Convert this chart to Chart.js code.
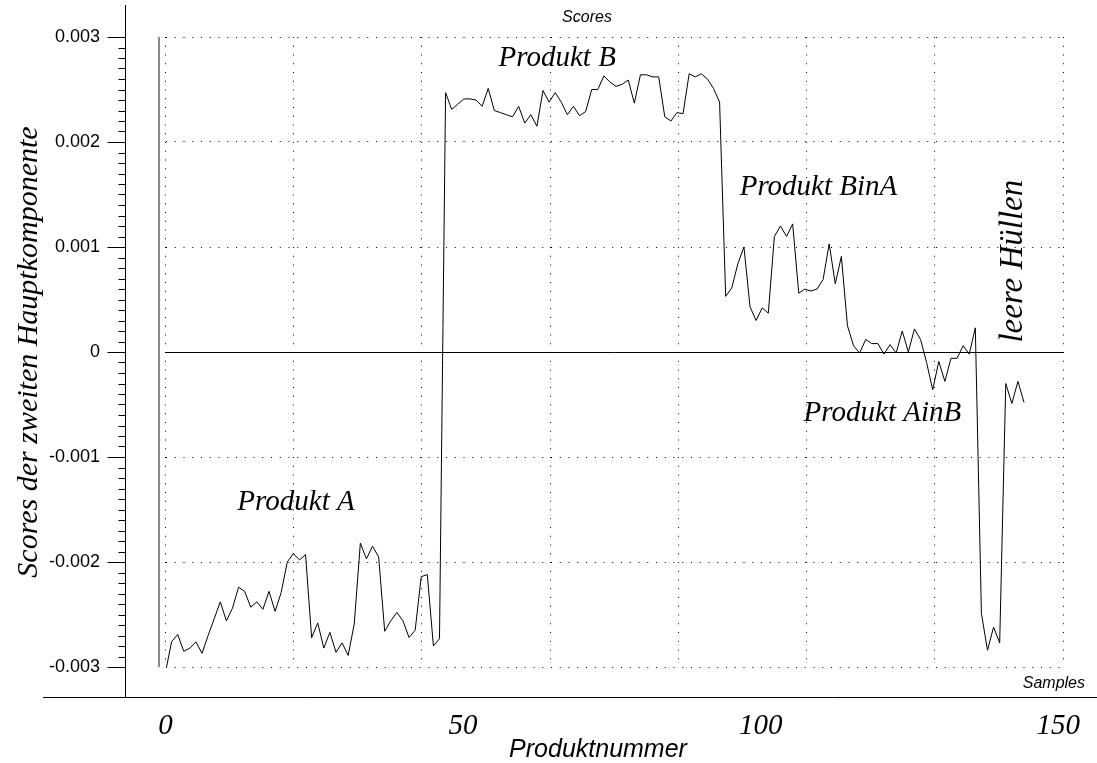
<!DOCTYPE html>
<html lang="de">
<head>
<meta charset="utf-8">
<title>Scores der zweiten Hauptkomponente</title>
<script src="https://cdn.jsdelivr.net/npm/chart.js@4"></script>
<style>
  html, body { margin: 0; padding: 0; background: #fff; }
  canvas { display: block; }
</style>
</head>
<body>
<canvas id="scoresChart" width="1097" height="763"></canvas>
<script>
// scores of the second principal component, in units of 0.001, one value per sample
const produktA = [
  -3.05, -2.76, -2.69, -2.85, -2.82, -2.76, -2.87, -2.70, -2.54, -2.38,
  -2.56, -2.44, -2.24, -2.28, -2.43, -2.38, -2.45, -2.28, -2.47, -2.29,
  -2.00, -1.92, -1.98, -1.93, -2.72, -2.58, -2.82, -2.67, -2.86, -2.77,
  -2.89, -2.59, -1.82, -1.97, -1.85, -1.95, -2.66, -2.56, -2.48, -2.56,
  -2.72, -2.65, -2.14, -2.12, -2.80, -2.73
];
const produktB = [
  2.47, 2.31, 2.36, 2.41, 2.41, 2.40, 2.34, 2.51, 2.30, 2.28,
  2.26, 2.24, 2.34, 2.18, 2.26, 2.15, 2.49, 2.38, 2.47, 2.38,
  2.26, 2.34, 2.25, 2.29, 2.50, 2.50, 2.63, 2.57, 2.53, 2.55,
  2.59, 2.37, 2.64, 2.64, 2.62, 2.62, 2.24, 2.20, 2.28, 2.27,
  2.65, 2.62, 2.65, 2.60, 2.51, 2.38
];
const produktBinA = [
  0.53, 0.61, 0.84, 1.00, 0.43, 0.30, 0.42, 0.37, 1.10, 1.20,
  1.10, 1.22, 0.56, 0.60, 0.58, 0.60, 0.69, 1.03, 0.65, 0.91
];
const produktAinB = [
  0.25, 0.06, -0.01, 0.12, 0.08, 0.08, -0.02, 0.07, -0.01, 0.20,
  0.00, 0.22, 0.12, -0.10, -0.36, -0.09, -0.28, -0.06, -0.06, 0.06,
  -0.02, 0.23
];
const leereHuellen = [-2.49, -2.84, -2.62, -2.77, -0.30, -0.49, -0.28, -0.48];

const yTicks = [-0.003, -0.002, -0.001, 0, 0.001, 0.002, 0.003];
const xTicks = [0, 50, 100, 150];

// group names written into the plot: sample position and score where the text starts
const notes = [
  { text: 'Produkt A', sample: 11.8, score: -0.00150 },
  { text: 'Produkt B', sample: 54.7, score: 0.00272 },
  { text: 'Produkt BinA', sample: 94.3, score: 0.00150 },
  { text: 'Produkt AinB', sample: 104.8, score: -0.00066 },
  { text: 'leere Hüllen', sample: 140.6, score: 0.00009, vertical: true }
];

const scores = [...produktA, ...produktB, ...produktBinA, ...produktAinB, ...leereHuellen]
  .map((v, i) => ({ x: i, y: v / 1000 }));

const serifFamily = '"Liberation Serif", "Times New Roman", serif';
const sansFamily = '"Liberation Sans", Arial, sans-serif';

const axisFrame = {
  id: 'axisFrame',
  afterDraw(chart) {
    const { ctx, chartArea: area, scales } = chart;
    const y = scales.y, x = scales.x;
    ctx.save();

    // left axis with major and minor ticks, bottom axis line
    ctx.strokeStyle = '#000';
    ctx.lineWidth = 1;
    ctx.beginPath();
    ctx.moveTo(125.5, 5);
    ctx.lineTo(125.5, 697);
    ctx.moveTo(43, 697.5);
    ctx.lineTo(1097, 697.5);
    for (let k = -30; k <= 30; k++) {
      const py = Math.round(y.getPixelForValue(k / 10000)) + 0.5;
      const len = k % 10 === 0 ? 18 : 7;
      ctx.moveTo(125.5 - len, py);
      ctx.lineTo(125.5, py);
    }
    ctx.stroke();

    // grey line at the start of the sample range
    ctx.strokeStyle = '#8a8a8a';
    ctx.lineWidth = 2;
    ctx.beginPath();
    ctx.moveTo(159, area.top);
    ctx.lineTo(159, area.bottom);
    ctx.stroke();

    ctx.fillStyle = '#000';
    ctx.font = 'italic 16px ' + sansFamily;
    ctx.textAlign = 'center';
    ctx.textBaseline = 'middle';
    ctx.fillText('Scores', 587, 18);
    ctx.textAlign = 'right';
    ctx.textBaseline = 'alphabetic';
    ctx.fillText('Samples', 1085, 688);

    ctx.font = 'italic 25px ' + sansFamily;
    ctx.textAlign = 'center';
    ctx.fillText('Produktnummer', 598, 757);

    ctx.textAlign = 'left';
    notes.forEach(n => {
      ctx.save();
      ctx.font = 'italic ' + (n.vertical ? 33 : 29) + 'px ' + serifFamily;
      ctx.translate(x.getPixelForValue(n.sample), y.getPixelForValue(n.score));
      if (n.vertical) ctx.rotate(-Math.PI / 2);
      ctx.fillText(n.text, 0, 0);
      ctx.restore();
    });
    ctx.restore();
  }
};

new Chart(document.getElementById('scoresChart'), {
  type: 'line',
  data: {
    datasets: [{
      data: scores,
      borderColor: '#000',
      borderWidth: 1,
      tension: 0,
      fill: false,
      pointRadius: 0
    }]
  },
  options: {
    responsive: false,
    devicePixelRatio: 1,
    animation: false,
    layout: { padding: { top: 37, right: 34, left: 0, bottom: 0 } },
    plugins: { legend: { display: false }, tooltip: { enabled: false } },
    scales: {
      x: {
        type: 'linear',
        display: false,
        min: 0,
        max: 147.4
      },
      grid7: {
        type: 'linear',
        axis: 'x',
        position: 'bottom',
        min: 0,
        max: 7,
        afterBuildTicks: s => { s.ticks = [0, 1, 2, 3, 4, 5, 6, 7].map(v => ({ value: v })); },
        afterFit: s => { s.height = 0; },
        ticks: { display: false, padding: 0 },
        grid: { color: '#000', lineWidth: 1, drawTicks: false },
        border: { display: false, dash: [1, 7.75] }
      },
      produkt: {
        type: 'linear',
        axis: 'x',
        position: 'bottom',
        min: 0,
        max: 150.8,
        afterBuildTicks: s => { s.ticks = xTicks.map(v => ({ value: v })); },
        afterFit: s => { s.height = 96; },
        grid: { display: true, color: 'rgba(0,0,0,0)', drawOnChartArea: false, drawTicks: true, tickLength: 40, tickColor: 'rgba(0,0,0,0)' },
        border: { display: false },
        ticks: {
          padding: 2,
          color: '#000',
          font: { family: serifFamily, style: 'italic', size: 29 }
        }
      },
      y: {
        type: 'linear',
        position: 'left',
        min: -0.003,
        max: 0.003,
        afterBuildTicks: s => { s.ticks = yTicks.map(v => ({ value: v })); },
        afterFit: s => { s.width = 165.5; },
        grid: { color: '#000', lineWidth: 1, drawTicks: true, tickLength: 60, tickColor: 'rgba(0,0,0,0)' },
        border: {
          display: false,
          dash: ctx => (ctx.tick && Math.abs(ctx.tick.value) < 1e-9 ? [] : [1, 7.75])
        },
        ticks: {
          padding: 5.5,
          color: '#000',
          font: { family: sansFamily, size: 18 },
          callback: v => (Math.abs(v) < 1e-9 ? '0' : v.toFixed(3))
        },
        title: {
          display: true,
          text: 'Scores der zweiten Hauptkomponente',
          color: '#000',
          padding: { top: 11, bottom: 0 },
          font: { family: serifFamily, style: 'italic', size: 30 }
        }
      }
    }
  },
  plugins: [axisFrame]
});
</script>
</body>
</html>
